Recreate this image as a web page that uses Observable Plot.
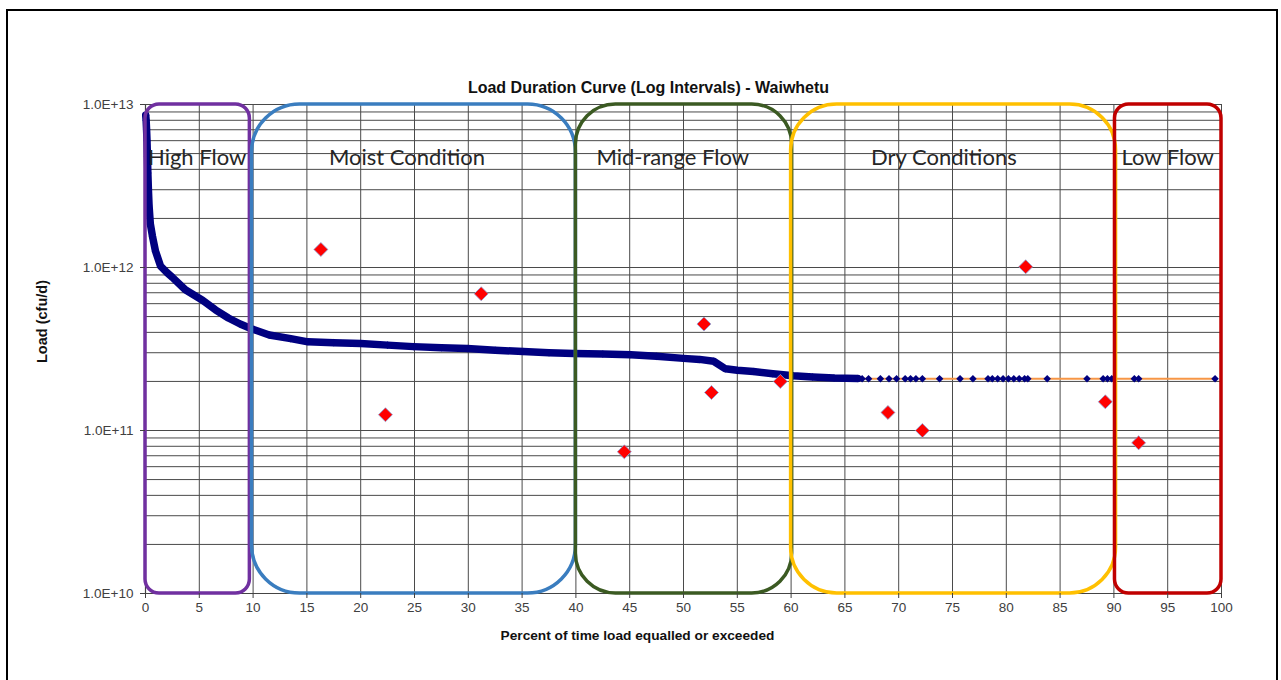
<!DOCTYPE html>
<html><head><meta charset="utf-8">
<script src="https://cdn.jsdelivr.net/npm/d3@7"></script>
<script src="https://cdn.jsdelivr.net/npm/@observablehq/plot@0.6"></script>
<style>
html,body{margin:0;padding:0;background:#fff;overflow:hidden;width:1281px;height:680px;}
#chart{position:absolute;left:0;top:0;}
#frame{position:absolute;left:6px;top:9px;width:1268px;height:720px;border:2px solid #000;pointer-events:none;}
</style></head><body>
<div id="chart"></div><div id="frame"></div>
<script>
const titleText = "Load Duration Curve (Log Intervals) - Waiwhetu";
const xLabelText = "Percent of time load equalled or exceeded";
const yLabelText = "Load (cfu/d)";

const xTicks = [0,5,10,15,20,25,30,35,40,45,50,55,60,65,70,75,80,85,90,95,100];
const yTicks = [1e10,1e11,1e12,1e13];
const yTickLabels = ["1.0E+10","1.0E+11","1.0E+12","1.0E+13"];
const yDecades = [1e10,1e11,1e12];
const yMinorMultipliers = [1,2,3,4,5,6,7,8,9];

const zoneNames = ["High Flow","Moist Condition","Mid-range Flow","Dry Conditions","Low Flow"];
const zoneStart = [0, 9.9, 40, 60, 90.1];
const zoneEnd = [9.7, 40, 60.1, 90.2, 100];
const zoneLabelX = [4.8, 24.3, 49, 74.2, 95];
const zoneColors = ["#7030A0","#3A7DBF","#3B5A22","#FFC000","#C00000"];
const zoneRadius = [14, 48, 40, 46, 14];

// load duration curve: dense part
const curvePct = [0.02,0.06,0.1,0.14,0.18,0.22,0.27,0.33,0.45,0.65,0.93,1.4,2.0,2.5,3.7,5.3,6.5,7.7,8.8,9.9,11.5,13.5,15.1,17.5,20.0,22.5,24.9,27.5,29.9,32.5,35.1,37.5,39.8,42.5,45.1,47.5,50.0,51.5,52.8,53.9,55.0,56.5,58.3,60.2,62.0,64.0,66.2];
const curveLoad = [8.6e12,8.0e12,7.0e12,6.0e12,4.8e12,3.8e12,3.0e12,2.4e12,1.85e12,1.55e12,1.26e12,1.02e12,9.3e11,8.7e11,7.3e11,6.3e11,5.5e11,4.9e11,4.5e11,4.2e11,3.85e11,3.66e11,3.5e11,3.46e11,3.42e11,3.34e11,3.27e11,3.22e11,3.18e11,3.11e11,3.05e11,3.0e11,2.97e11,2.95e11,2.92e11,2.85e11,2.77e11,2.73e11,2.66e11,2.39e11,2.34e11,2.30e11,2.23e11,2.17e11,2.13e11,2.10e11,2.085e11];
// sparse flat part
const flatPct = [66.6,67.2,68.3,69.1,69.8,70.6,71.1,71.6,72.2,73.8,75.7,76.9,78.3,78.7,79.2,79.7,80.2,80.7,81.2,81.7,82.0,83.8,87.5,89.0,89.4,89.8,91.9,92.3,99.4];
const flatLoad = [2.08e11,2.08e11,2.08e11,2.08e11,2.08e11,2.08e11,2.08e11,2.08e11,2.08e11,2.08e11,2.08e11,2.08e11,2.08e11,2.08e11,2.08e11,2.08e11,2.08e11,2.08e11,2.08e11,2.08e11,2.08e11,2.08e11,2.08e11,2.08e11,2.08e11,2.08e11,2.08e11,2.08e11,2.08e11];

// sample loads
const samplePct = [16.3,22.3,31.2,44.5,51.9,52.6,59.0,69.0,72.2,81.8,89.2,92.3];
const sampleLoad = [1.29e12,1.25e11,6.9e11,7.4e10,4.5e11,1.71e11,2.0e11,1.29e11,1.0e11,1.01e12,1.5e11,8.4e10];

const dense = curvePct.map((p,i)=>({p, v: curveLoad[i]}));
const flat = flatPct.map((p,i)=>({p, v: flatLoad[i]}));
const allPts = dense.concat(flat);
const samples = samplePct.map((p,i)=>({p, v: sampleLoad[i]}));
const yGrid = yDecades.flatMap(d => yMinorMultipliers.map(m => m*d)).concat([1e13]);
const zones = zoneNames.map((name,i)=>({name, x1: zoneStart[i], x2: zoneEnd[i], lx: zoneLabelX[i], color: zoneColors[i], r: zoneRadius[i]}));

const gridColor = "#4a4a4a";
const marks = [
  Plot.ruleY(yGrid, {stroke: gridColor, strokeWidth: 1}),
  Plot.ruleX(xTicks, {stroke: gridColor, strokeWidth: 1}),
  Plot.ruleX([0], {stroke: "#444", strokeWidth: 1.2}),
  Plot.ruleY([1e10], {stroke: "#444", strokeWidth: 1.2}),
  Plot.line(allPts, {x: "p", y: "v", stroke: "#F79646", strokeWidth: 2}),
  Plot.line(dense, {x: "p", y: "v", stroke: "#000080", strokeWidth: 7.5, strokeLinecap: "round", strokeLinejoin: "round"}),
  Plot.dot(allPts, {x: "p", y: "v", symbol: "diamond2", r: 3.4, fill: "#000080", stroke: "none"}),
  ...zones.map(z => Plot.rect([z], {x1: "x1", x2: "x2", y1: () => 1e10, y2: () => 1e13, rx: z.r, ry: z.r, fill: "none", stroke: z.color, strokeWidth: 3.5})),
  Plot.dot(samples, {x: "p", y: "v", symbol: "diamond2", r: 6.3, fill: "#FF0000", stroke: "#8aa6dc", strokeWidth: 0.8}),
  Plot.text(zones, {x: "lx", text: "name", frameAnchor: "top", dy: 53, lineAnchor: "middle", fontSize: 22, fontFamily: "Lato, 'Open Sans', sans-serif", fill: "#262626"}),
  Plot.axisX({ticks: xTicks, tickSize: 5, tickPadding: 4, fontSize: 13.5, label: null, color: "#404040"}),
  Plot.axisY({ticks: yTicks, tickFormat: d => yTickLabels[yTicks.indexOf(d)], tickSize: 5, tickPadding: 7, fontSize: 13.5, label: null, color: "#404040"}),
  Plot.text([titleText], {frameAnchor: "top", dx: -35, dy: -17, lineAnchor: "middle", fontWeight: "bold", fontSize: 16, fill: "#111"}),
  Plot.text([xLabelText], {frameAnchor: "bottom", dx: -46, dy: 42, lineAnchor: "middle", fontWeight: "bold", fontSize: 13.7, fill: "#111"}),
  Plot.text([yLabelText], {frameAnchor: "left", dx: -103, dy: 14, rotate: -90, lineAnchor: "middle", fontWeight: "bold", fontSize: 14.5, fill: "#111"})
];

const chart = Plot.plot({
  width: 1281,
  height: 680,
  marginLeft: 145,
  marginRight: 60,
  marginTop: 104,
  marginBottom: 87,
  style: {fontFamily: "'Liberation Sans', Arial, sans-serif", background: "white", overflow: "visible"},
  x: {domain: [0, 100]},
  y: {type: "log", domain: [1e10, 1e13]},
  marks
});
document.getElementById("chart").appendChild(chart);
</script>
</body></html>
